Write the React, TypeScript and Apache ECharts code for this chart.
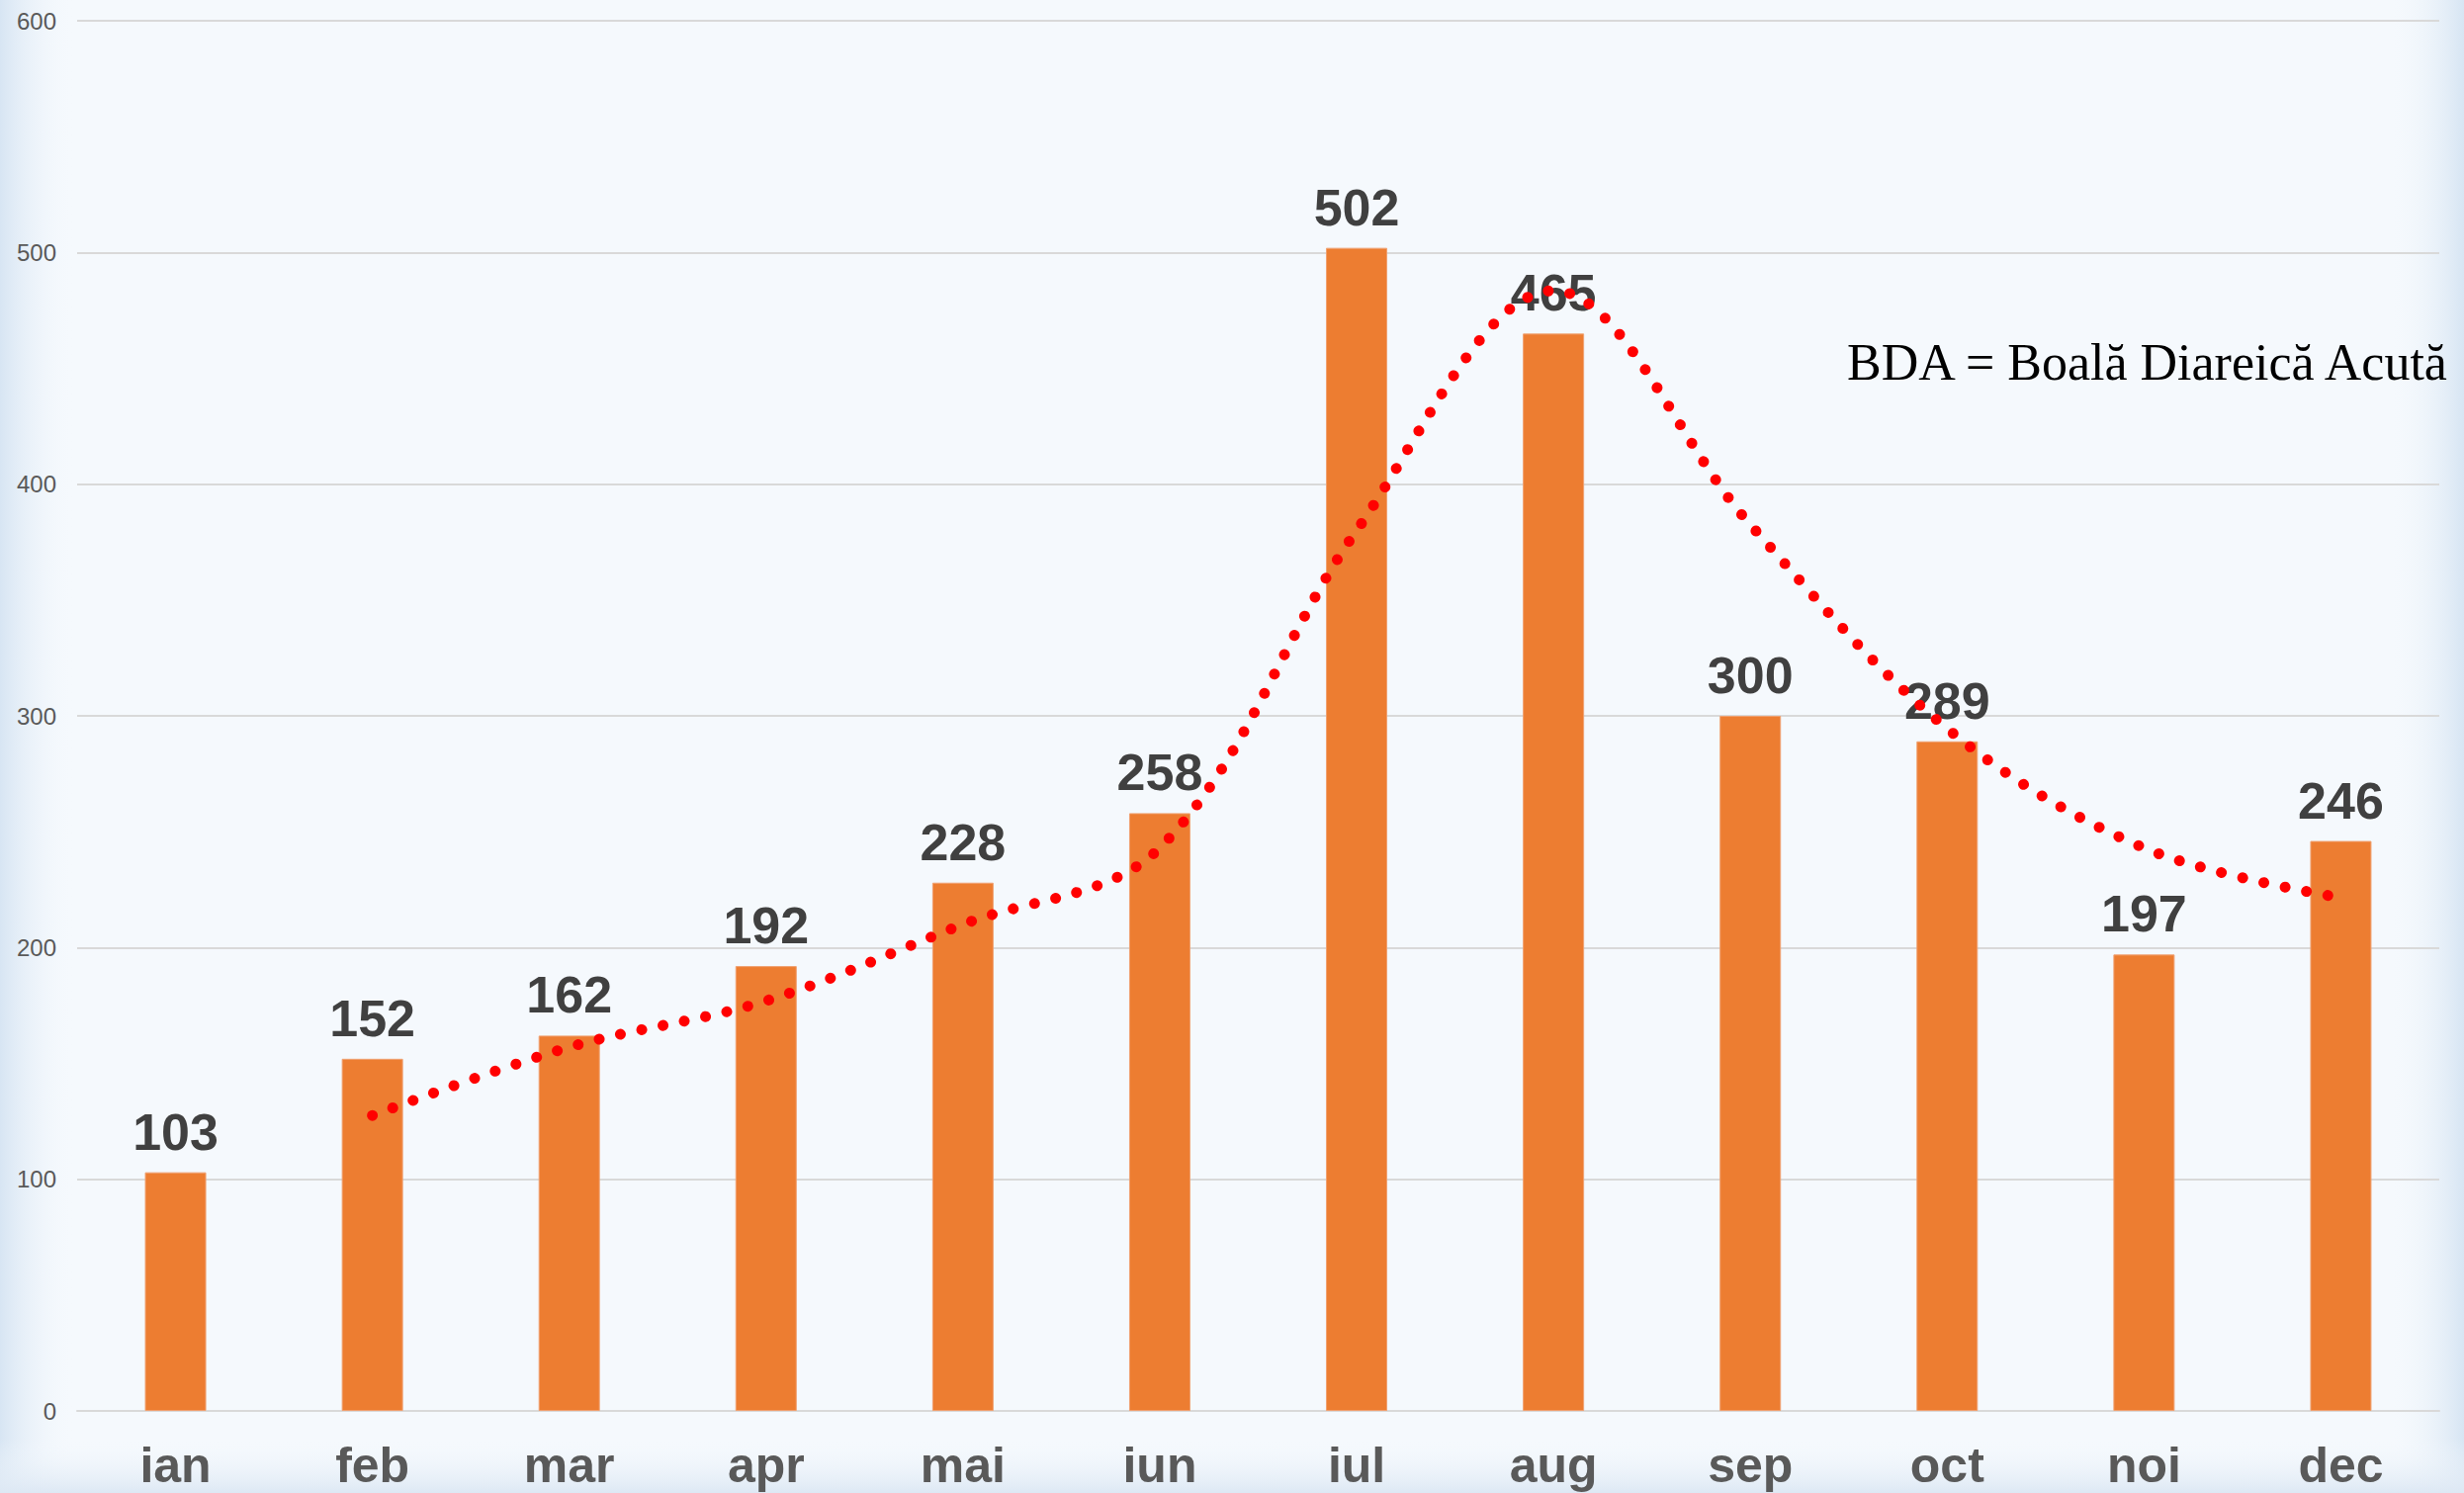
import React, { useEffect, useRef } from "react";
import * as echarts from "echarts";

const categories = ["ian", "feb", "mar", "apr", "mai", "iun", "iul", "aug", "sep", "oct", "noi", "dec"];
const cases = [103, 152, 162, 192, 228, 258, 502, 465, 300, 289, 197, 246];
// trend line (2-period moving average as drawn in the reference)
const trend = [null, 127.5, 157, 177, 210, 243, 380, 483.5, 382.5, 294.5, 243, 221.5];
const yTicks = [0, 100, 200, 300, 400, 500, 600];
const noteText = "BDA = Boală Diareică Acută";

const W = 2492;
const H = 1510;

export default function App() {
  const ref = useRef<HTMLDivElement>(null);
  useEffect(() => {
    if (!ref.current) return;
    const chart = echarts.init(ref.current, undefined, { renderer: "svg" });
    const option: any = {
      animation: false,
      backgroundColor: "#F5F9FD",
      graphic: {
        elements: [
          {
            type: "rect",
            z: -10,
            silent: true,
            shape: { x: 0, y: 0, width: 75, height: H },
            style: {
              fill: new echarts.graphic.LinearGradient(0, 0, 1, 0, [
                { offset: 0, color: "#D7E5F3" },
                { offset: 1, color: "rgba(245,249,253,0)" },
              ]),
            },
          },
          {
            type: "rect",
            z: -10,
            silent: true,
            shape: { x: W - 75, y: 0, width: 75, height: H },
            style: {
              fill: new echarts.graphic.LinearGradient(0, 0, 1, 0, [
                { offset: 0, color: "rgba(245,249,253,0)" },
                { offset: 1, color: "#D7E5F3" },
              ]),
            },
          },
          {
            type: "rect",
            z: -10,
            silent: true,
            shape: { x: 0, y: H - 55, width: W, height: 55 },
            style: {
              fill: new echarts.graphic.LinearGradient(0, 0, 0, 1, [
                { offset: 0, color: "rgba(245,249,253,0)" },
                { offset: 1, color: "#DDE8F4" },
              ]),
            },
          },
          {
            type: "text",
            z: 20,
            style: {
              text: noteText,
              x: 1868,
              y: 366,
              verticalAlign: "middle",
              align: "left",
              fill: "#000000",
              font: "52px 'Liberation Serif', 'Times New Roman', serif",
            },
          },
        ],
      },
      grid: { left: 78, right: 25, top: 21, bottom: 83, containLabel: false },
      xAxis: {
        type: "category",
        data: categories,
        axisLine: { show: true, lineStyle: { color: "#D9D9D9", width: 2 } },
        axisTick: { show: false },
        axisLabel: {
          color: "#595959",
          fontSize: 50,
          fontWeight: "bold",
          fontFamily: "'Liberation Sans', Arial, sans-serif",
          margin: 30,
          interval: 0,
        },
      },
      yAxis: {
        type: "value",
        min: yTicks[0],
        max: yTicks[yTicks.length - 1],
        interval: 100,
        axisLine: { show: false },
        axisTick: { show: false },
        splitLine: { lineStyle: { color: "#D9D9D9", width: 2 } },
        axisLabel: {
          color: "#595959",
          fontSize: 24,
          fontFamily: "'Liberation Sans', Arial, sans-serif",
          margin: 21,
        },
      },
      series: [
        {
          type: "bar",
          data: cases,
          barWidth: 62,
          z: 2,
          itemStyle: { color: "#ED7D31", borderColor: "#F0A070", borderWidth: 1 },
          label: {
            show: true,
            position: "top",
            distance: 15,
            color: "#404040",
            fontSize: 52,
            fontWeight: "bold",
            fontFamily: "'Liberation Sans', Arial, sans-serif",
          },
        },
        {
          type: "line",
          data: trend,
          z: 10,
          smooth: 0.35,
          symbol: "none",
          showSymbol: false,
          connectNulls: false,
          lineStyle: {
            color: "#FF0000",
            width: 11,
            type: [0.01, 22],
            cap: "round",
          },
        },
      ],
    };
    chart.setOption(option);
    return () => chart.dispose();
  }, []);
  return (
    <div
      ref={ref}
      style={{ position: "fixed", left: 0, top: 0, width: W, height: H }}
    />
  );
}
